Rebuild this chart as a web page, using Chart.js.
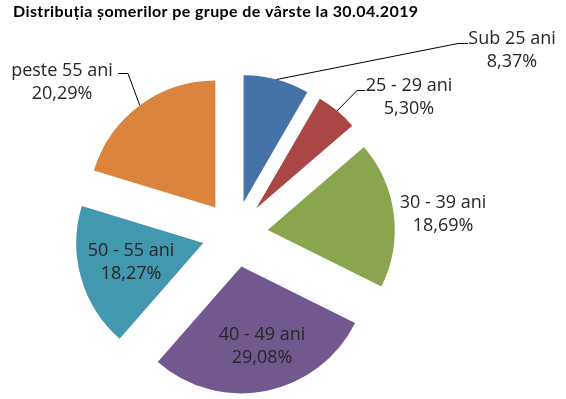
<!DOCTYPE html>
<html>
<head>
<meta charset="utf-8">
<script src="https://cdn.jsdelivr.net/npm/chart.js@4.4.0/dist/chart.umd.min.js"></script>
<style>
    html, body { margin: 0; padding: 0; background: #ffffff; }
    #wrap { width: 566px; height: 399px; }
</style>
</head>
<body>
<div id="wrap"><canvas id="myChart" width="566" height="399"></canvas></div>
<script>
const chartTitle = 'Distribuția șomerilor pe grupe de vârste la 30.04.2019';
const categories = ['Sub 25 ani', '25 - 29 ani', '30 - 39 ani', '40 - 49 ani', '50 - 55 ani', 'peste 55 ani'];
const percentValues = [8.37, 5.30, 18.69, 29.08, 18.27, 20.29];
const sliceColors = ['#4572A7', '#AA4643', '#89A54E', '#71588F', '#4198AF', '#DB843D'];

// how far each slice is pulled out from the centre
const EXPLODE = 33;

// where Excel put the data labels (centre of the two-line block) and the leader line elbows
const labelLayout = [
    { x: 512, y: 50, elbow: [458, 43], end: [468, 43] },
    { x: 409, y: 97, elbow: [357, 90], end: [365, 90] },
    { x: 443, y: 214 },
    { x: 262, y: 346 },
    { x: 131, y: 262 },
    { x: 62, y: 82, elbow: [128, 73], end: [118, 73] }
];

function formatPercent(v) {
    return v.toFixed(2).replace('.', ',') + '%';
}

// draw each arc shifted outwards along its middle angle
const explodePlugin = {
    id: 'explode',
    beforeDatasetDraw(chart, args) {
        var ctx = chart.ctx;
        args.meta.data.forEach(arc => {
            var mid = (arc.startAngle + arc.endAngle) / 2;
            ctx.save();
            ctx.translate(Math.cos(mid) * EXPLODE, Math.sin(mid) * EXPLODE);
            arc.draw(ctx);
            ctx.restore();
        });
        return false;
    }
};

const labelPlugin = {
    id: 'sliceLabels',
    afterDraw(chart) {
        var ctx = chart.ctx;
        var meta = chart.getDatasetMeta(0);

        ctx.save();
        // title
        ctx.fillStyle = '#000000';
        ctx.font = 'bold 16px Lato';
        ctx.letterSpacing = '0.4px';
        ctx.textAlign = 'left';
        ctx.textBaseline = 'alphabetic';
        ctx.fillText(chartTitle, 13, 17);
        ctx.letterSpacing = '0px';

        meta.data.forEach((arc, i) => {
            var lay = labelLayout[i];
            if (lay.elbow) {
                var mid = (arc.startAngle + arc.endAngle) / 2;
                var r = EXPLODE + arc.outerRadius;
                ctx.beginPath();
                ctx.strokeStyle = '#000000';
                ctx.lineWidth = 1;
                ctx.moveTo(arc.x + Math.cos(mid) * r, arc.y + Math.sin(mid) * r);
                ctx.lineTo(lay.elbow[0], lay.elbow[1] + 0.5);
                ctx.lineTo(lay.end[0], lay.end[1] + 0.5);
                ctx.stroke();
            }
            ctx.fillStyle = '#262626';
            ctx.font = '18px "Open Sans"';
            ctx.textAlign = 'center';
            ctx.textBaseline = 'middle';
            ctx.fillText(categories[i], lay.x, lay.y - 11.5);
            ctx.fillText(formatPercent(percentValues[i]), lay.x, lay.y + 11.5);
        });
        ctx.restore();
    }
};

var ctx = document.getElementById('myChart').getContext('2d');
var myChart = new Chart(ctx, {
    type: 'pie',
    data: {
        labels: categories,
        datasets: [{
            data: percentValues,
            backgroundColor: sliceColors,
            borderWidth: 0
        }]
    },
    options: {
        responsive: false,
        animation: false,
        events: [],
        radius: 127,
        layout: {
            padding: { left: 0, right: 96, top: 69, bottom: 0 }
        },
        plugins: {
            legend: { display: false },
            tooltip: { enabled: false },
            title: { display: false }
        }
    },
    plugins: [explodePlugin, labelPlugin]
});
</script>
</body>
</html>
